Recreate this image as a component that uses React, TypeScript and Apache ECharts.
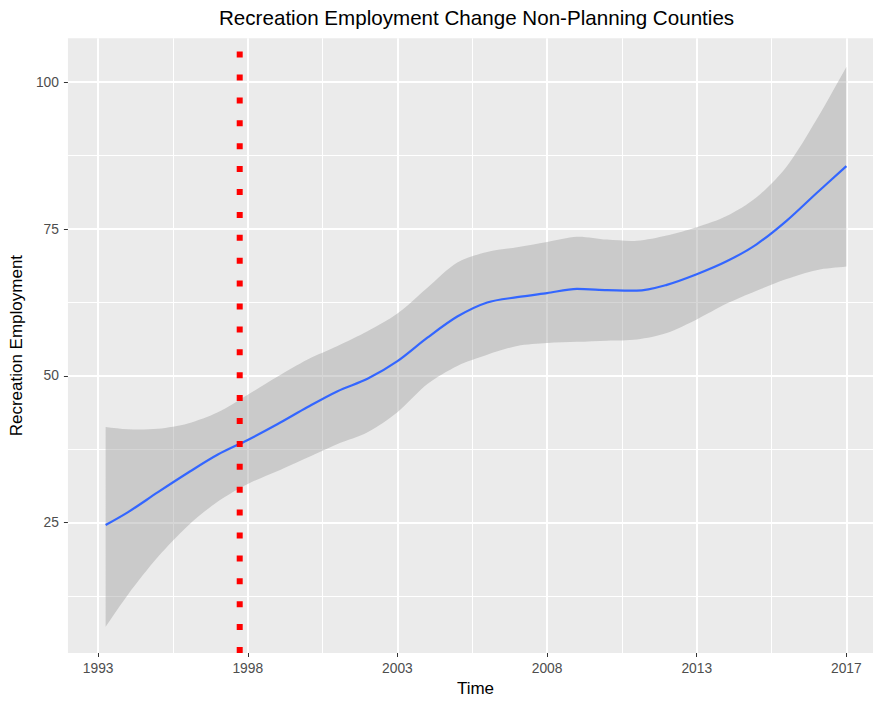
import React, { useEffect, useRef } from 'react';
import * as echarts from 'echarts';

// x positions (evenly spaced axis; last break is labelled "2017" in the reference)
const years = [1993.25, 1994, 1995, 1996, 1997, 1998, 1999, 2000, 2001, 2002, 2003, 2004, 2005, 2006, 2007, 2008, 2009, 2010, 2011, 2012, 2013, 2014, 2015, 2016, 2017, 2018];
const fitValues = [24.6, 26.8, 30.2, 33.5, 36.6, 39.1, 41.8, 44.7, 47.4, 49.5, 52.5, 56.5, 60.1, 62.5, 63.4, 64.1, 64.8, 64.6, 64.5, 65.5, 67.3, 69.5, 72.4, 76.4, 81.1, 85.7];
const upperValues = [41.3, 40.9, 41.0, 41.9, 43.8, 46.8, 49.9, 52.8, 55.1, 57.6, 60.6, 65.0, 69.3, 71.1, 71.9, 72.8, 73.7, 73.2, 73.0, 73.9, 75.3, 77.2, 80.4, 85.6, 93.6, 102.6];
const lowerValues = [7.3, 12.8, 19.2, 24.5, 28.6, 31.6, 33.8, 36.1, 38.4, 40.4, 43.8, 48.6, 51.7, 53.6, 55.1, 55.6, 55.8, 56.0, 56.2, 57.3, 59.6, 62.3, 64.5, 66.5, 68.0, 68.6];

const xTickPositions = [1993, 1998, 2003, 2008, 2013, 2018];
const xTickLabels = ['1993', '1998', '2003', '2008', '2013', '2017'];
const xMinorPositions = [1995.5, 2000.5, 2005.5, 2010.5, 2015.5];
const yTickValues = [25, 50, 75, 100];
const yMinorValues = [12.5, 37.5, 62.5, 87.5];
const policyYear = 1997.73;

const xMin = 1991.99;
const xMax = 2018.89;
const yMin = 2.82;
const yMax = 107.47;

const FONT = "'Liberation Sans', Arial, sans-serif";

export default function App() {
  const ref = useRef<HTMLDivElement>(null);

  useEffect(() => {
    if (!ref.current) return;
    const chart = echarts.init(ref.current, null, { renderer: 'svg' });

    const bandData = years.map((x, i) => [x, lowerValues[i], upperValues[i]]);
    const fitData = years.map((x, i) => [x, fitValues[i]]);

    chart.setOption({
      animation: false,
      backgroundColor: '#FFFFFF',
      title: {
        text: 'Recreation Employment Change Non-Planning Counties',
        left: 219,
        top: 7,
        padding: 0,
        textStyle: { fontFamily: FONT, fontSize: 20.6, fontWeight: 'normal', color: '#000000' },
      },
      grid: {
        left: 66,
        right: 0,
        top: 38.3,
        bottom: 47,
        show: true,
        backgroundColor: '#EBEBEB',
        borderWidth: 0,
      },
      xAxis: [
        {
          type: 'value',
          min: xMin,
          max: xMax,
          name: 'Time',
          nameLocation: 'middle',
          nameGap: 27,
          nameTextStyle: { fontFamily: FONT, fontSize: 17, color: '#000000', padding: [0, 0, 0, 10] },
          axisLine: { show: false },
          axisTick: { show: true, length: 4, customValues: xTickPositions, lineStyle: { color: '#333333', width: 1 } },
          axisLabel: {
            customValues: xTickPositions,
            margin: 8,
            fontFamily: FONT,
            fontSize: 13.8,
            color: '#4D4D4D',
            formatter: (v: number) => {
              const idx = xTickPositions.findIndex((p) => Math.abs(p - v) < 1e-6);
              return idx >= 0 ? xTickLabels[idx] : '';
            },
          },
          splitLine: { show: true, lineStyle: { color: '#FFFFFF', width: 2 } },
        },
        {
          type: 'value',
          min: xMin,
          max: xMax,
          position: 'top',
          axisLine: { show: false },
          axisTick: { show: false, customValues: xMinorPositions },
          axisLabel: { show: false, customValues: xMinorPositions },
          splitLine: { show: true, lineStyle: { color: '#FFFFFF', width: 1 } },
        },
      ],
      yAxis: [
        {
          type: 'value',
          min: yMin,
          max: yMax,
          name: 'Recreation Employment',
          nameLocation: 'middle',
          nameGap: 39,
          nameTextStyle: { fontFamily: FONT, fontSize: 17, color: '#000000' },
          axisLine: { show: false },
          axisTick: { show: true, length: 4, customValues: yTickValues, lineStyle: { color: '#333333', width: 1 } },
          axisLabel: {
            customValues: yTickValues,
            margin: 9,
            fontFamily: FONT,
            fontSize: 13.8,
            color: '#4D4D4D',
          },
          splitLine: { show: true, lineStyle: { color: '#FFFFFF', width: 2 } },
        },
        {
          type: 'value',
          min: yMin,
          max: yMax,
          position: 'right',
          axisLine: { show: false },
          axisTick: { show: false, customValues: yMinorValues },
          axisLabel: { show: false, customValues: yMinorValues },
          splitLine: { show: true, lineStyle: { color: '#FFFFFF', width: 1 } },
        },
      ],
      series: [
        {
          name: 'confidence band',
          type: 'custom',
          data: bandData,
          encode: { x: 0, y: [1, 2] },
          silent: true,
          z: 2,
          renderItem: (params: any, api: any) => {
            if (params.dataIndex !== 0) return null;
            const n = years.length;
            const pts: number[][] = [];
            // each end corner is repeated so that smoothing keeps the vertical ends straight
            pts.push(api.coord([years[0], upperValues[0]]));
            for (let i = 0; i < n; i++) pts.push(api.coord([years[i], upperValues[i]]));
            pts.push(api.coord([years[n - 1], upperValues[n - 1]]));
            pts.push(api.coord([years[n - 1], lowerValues[n - 1]]));
            for (let i = n - 1; i >= 0; i--) pts.push(api.coord([years[i], lowerValues[i]]));
            pts.push(api.coord([years[0], lowerValues[0]]));
            return {
              type: 'polygon',
              shape: { points: pts, smooth: 0.3 },
              style: { fill: '#999999', opacity: 0.4 },
            };
          },
        },
        {
          name: 'fit',
          type: 'line',
          data: fitData,
          smooth: 0.3,
          symbol: 'none',
          lineStyle: { color: '#3366FF', width: 2.2 },
          z: 3,
        },
        {
          name: 'policy',
          type: 'line',
          data: [[policyYear, yMin], [policyYear, yMax]],
          symbol: 'none',
          lineStyle: { color: '#FF0000', width: 6, type: [6, 16.9], cap: 'butt' },
          z: 4,
        },
      ],
    });

    return () => chart.dispose();
  }, []);

  return (
    <div
      ref={ref}
      style={{ position: 'absolute', left: 0, top: 0, width: 873, height: 702 }}
    />
  );
}
